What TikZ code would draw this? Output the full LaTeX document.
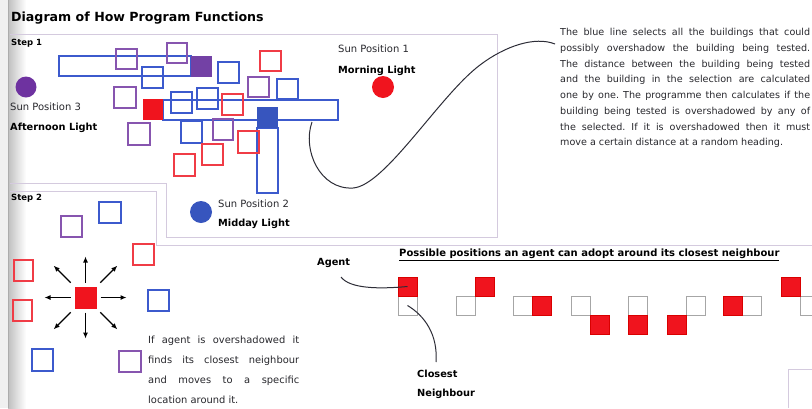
\documentclass[tikz,border=0pt]{standalone}
\usepackage{fontspec}
\setmainfont{DejaVu Sans}
\usetikzlibrary{arrows.meta,calc}
\definecolor{blueL}{RGB}{60,90,205}
\definecolor{blueF}{RGB}{55,85,190}
\definecolor{redL}{RGB}{240,60,70}
\definecolor{redF}{RGB}{240,20,30}
\definecolor{purL}{RGB}{135,85,175}
\definecolor{purF}{RGB}{115,65,165}
\definecolor{sunP}{RGB}{110,50,160}
\definecolor{frameC}{RGB}{212,202,222}
\definecolor{curveC}{RGB}{45,45,55}
\definecolor{textC}{RGB}{40,40,45}
\frenchspacing
\begin{document}
\begin{tikzpicture}[x=1pt,y=-1pt,
  bl/.style={draw=blueL,line width=1.2pt},
  rd/.style={draw=redL,line width=1.2pt},
  pu/.style={draw=purL,line width=1.2pt},
  frame/.style={draw=frameC,line width=0.9pt},
  lbl/.style={anchor=base west,inner sep=0pt,text=textC,font=\fontsize{10}{12}\selectfont},
  blbl/.style={anchor=base west,inner sep=0pt,font=\fontsize{9.8}{12}\selectfont\bfseries},
  steplbl/.style={anchor=base west,inner sep=0pt,font=\fontsize{8.5}{10}\selectfont\bfseries},
  arr/.style={-{Latex[length=6pt,width=5pt]},line width=1.1pt},
  cw/.style={draw=gray!70,fill=white,line width=0.8pt,minimum size=19pt,inner sep=0pt},
  cr/.style={draw=red!85!black,fill=redF,line width=0.5pt,minimum size=19pt,inner sep=0pt},
  conn/.style={draw=curveC,line width=1pt},
]
\useasboundingbox (0,0) rectangle (812,408);
\fill[white] (0,0) rectangle (812,408);
% book gutter
\fill[gray!12] (0,0) rectangle (8,408);
\shade[left color=gray!50, right color=white] (8,0) rectangle (26,408);
\draw[gray!65, line width=0.6pt] (8,0) -- (8,408);

% frames
\draw[frame] (10,34) -- (497,34) -- (497,237) -- (166,237) -- (166,183) -- (10,183);
\draw[frame] (10,191) -- (156,191) -- (156,245) -- (812,245);
\draw[frame] (788,408) -- (788,369) -- (812,369);

% title and step labels
\node[anchor=base west,inner sep=0pt,font=\fontsize{12.6}{14}\selectfont\bfseries] (title) at (11,21) {Diagram of How Program Functions};
\node[steplbl] (step1) at (11,45) {Step 1};
\node[steplbl] (step2) at (11,200) {Step 2};

% step 1 buildings
\draw[bl] (59,56) rectangle (191,76);
\draw[bl] (163,100) rectangle (338,120);
\draw[bl] (257,128) rectangle (278,193);
\draw[pu] (116,49) rectangle (137,69);
\draw[pu] (167,43) rectangle (187,63);
\draw[bl] (142,67) rectangle (163,88);
\draw[bl] (218,62) rectangle (239,83);
\draw[rd] (260,51) rectangle (281,71);
\draw[pu] (248,77) rectangle (269,97);
\draw[bl] (277,79) rectangle (298,99);
\draw[pu] (114,87) rectangle (136,108);
\draw[bl] (171,92) rectangle (192,113);
\draw[bl] (197,88) rectangle (218,109);
\draw[rd] (222,94) rectangle (243,115);
\draw[pu] (128,123) rectangle (150,145);
\draw[bl] (181,121) rectangle (202,143);
\draw[pu] (213,119) rectangle (233,140);
\draw[rd] (238,131) rectangle (259,153);
\draw[rd] (202,144) rectangle (223,165);
\draw[rd] (174,154) rectangle (195,176);
\fill[purF] (191,56) rectangle (212,77);
\fill[redF] (143,99) rectangle (163,120);
\fill[blueF] (257,107) rectangle (278,128);

% suns
\fill[sunP] (26,87) circle (10.5pt);
\fill[redF] (383,87) circle (11pt);
\fill[blueF] (201,212) circle (11pt);
\node[lbl] (sp1) at (338,52) {Sun Position 1};
\node[blbl] (ml) at (338,73) {Morning Light};
\node[lbl] (sp2) at (218,207) {Sun Position 2};
\node[blbl] (md) at (218,226) {Midday Light};
\node[lbl] (sp3) at (10,110) {Sun Position 3};
\node[blbl] (al) at (10,130) {Afternoon Light};

% explanatory paragraph and its curve
\node[anchor=base west,inner sep=0pt,text width=250pt,align=justify,text=textC,
      font=\fontsize{9.6}{15.75}\selectfont] (para) at (560,35.7)
  {The blue line selects all the buildings that could\linebreak
   possibly overshadow the building being tested.\linebreak
   The distance between the building being tested\linebreak
   and the building in the selection are calculated\linebreak
   one by one. The programme then calculates if the\linebreak
   building being tested is overshadowed by any of\linebreak
   the selected. If it is overshadowed then it must\linebreak
   move a certain distance at a random heading.};
\coordinate (cstart) at (312,122);
\coordinate (cend) at (555,44);
\draw[conn] (cstart) .. controls (302,150) and (320,190) .. (353,188)
  .. controls (385,186) and (440,95) .. (480,65)
  .. controls (505,46) and (535,36) .. (cend);

% step 2
\draw[bl] (99,202) rectangle (121,223);
\draw[pu] (61,216) rectangle (82,237);
\draw[rd] (133,244) rectangle (154,265);
\draw[rd] (14,260) rectangle (33,281);
\draw[rd] (13,300) rectangle (32,321);
\draw[bl] (148,290) rectangle (169,311);
\draw[bl] (32,349) rectangle (53,371);
\draw[pu] (119,351) rectangle (141,372);
\node[fill=redF,minimum size=22pt,inner sep=0pt] (ag) at (85.5,297.5) {};
\foreach \a in {0,90,180,270}
  \draw[arr] ([shift={(\a:15pt)}]ag.center) -- ([shift={(\a:41pt)}]ag.center);
\foreach \a in {45,135,225,315}
  \draw[arr] ([shift={(\a:21pt)}]ag.center) -- ([shift={(\a:45pt)}]ag.center);
\node[anchor=base west,inner sep=0pt,text width=151pt,align=justify,text=textC,
      font=\fontsize{9.9}{20}\selectfont] (s2text) at (148,343)
  {If agent is overshadowed it\linebreak
   finds its closest neighbour\linebreak
   and moves to a specific\linebreak
   location around it.};

% possible positions
\node[anchor=base west,inner sep=0pt,font=\fontsize{10}{12}\selectfont\bfseries] (pp) at (399,256.7)
  {\underline{Possible positions an agent can adopt around its closest neighbour}};
\foreach \i/\wx/\dx/\dy in {1/398/0/-1,2/456/1/-1,3/513/1/0,4/571/1/1,5/628/0/1,6/686/-1/1,7/742/-1/0,8/800/-1/-1}{
  \node[cw] (w\i) at (\wx+9.5,305.5) {};
  \node[cr] (r\i) at (\wx+9.5+19*\dx,305.5+19*\dy) {};
}
\node[blbl] (agl) at (317,265.7) {Agent};
\node[blbl] (cl1) at (417,377) {Closest};
\node[blbl] (cl2) at (417,396.7) {Neighbour};
\coordinate (agtail) at (341,277);
\coordinate (cntail) at (436,362);
\draw[conn] (agtail) .. controls (350,289) and (380,289) .. (r1.center);
\draw[conn] (w1.center) .. controls (425,316) and (438,335) .. (cntail);
\end{tikzpicture}
\end{document}
